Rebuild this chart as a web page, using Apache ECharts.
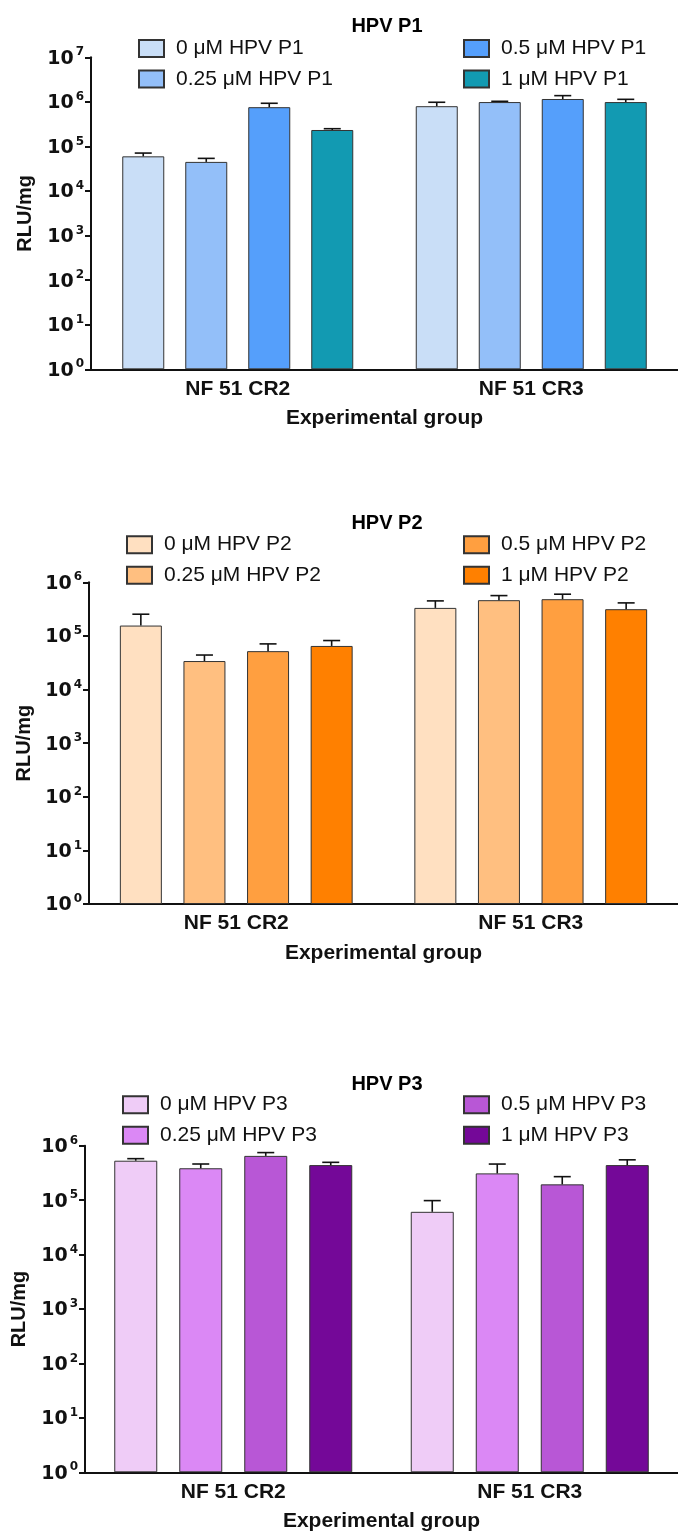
<!DOCTYPE html>
<html>
<head>
<meta charset="utf-8">
<script src="https://cdn.jsdelivr.net/npm/echarts@6/dist/echarts.min.js"></script>
<style>
  html, body { margin: 0; padding: 0; background: #fff; }
  #main { width: 678px; height: 1535px; }
</style>
</head>
<body>
<div id="main"></div>
<script>
// groups on the x axis
const categories = ['NF 51 CR2', 'NF 51 CR3']
const concs = ['0', '0.25', '0.5', '1']
const peptides = ['HPV P1', 'HPV P2', 'HPV P3']

// means per concentration: [CR2, CR3]
const p1Means = [[6.0e4, 8.0e5], [4.5e4, 9.9e5], [7.6e5, 1.16e6], [2.34e5, 9.9e5]]
const p1Sem = [[1.1e4, 1.8e5], [0.9e4, 0.4e5], [1.7e5, 2.2e5], [1.6e4, 1.5e5]]

const p2Means = [[1.56e5, 3.33e5], [3.4e4, 4.64e5], [5.2e4, 4.84e5], [6.5e4, 3.15e5]]
const p2Sem = [[9.8e4, 1.17e5], [1.0e4, 1.01e5], [1.9e4, 1.16e5], [1.7e4, 9.8e4]]

const p3Means = [[5.3e5, 6.1e4], [3.85e5, 3.1e5], [6.5e5, 1.95e5], [4.4e5, 4.4e5]]
const p3Sem = [[4.8e4, 3.7e4], [7.6e4, 1.5e5], [9.7e4, 7.5e4], [5.5e4, 1.1e5]]

const yMaxes = [1e7, 1e6, 1e6]

const p1Colors = ['#C9DEF7', '#93BFF9', '#559FFB', '#129AB2']
const p2Colors = ['#FFE0C1', '#FFBF80', '#FF9F40', '#FF8000']
const p3Colors = ['#EFCCF7', '#DB88F5', '#B857D6', '#740898']

const means = [p1Means, p2Means, p3Means]
const sems = [p1Sem, p2Sem, p3Sem]
const colors = [p1Colors, p2Colors, p3Colors]

// panel layout (px)
const panels = [
    { left: 91, top: 57.3, width: 594, height: 312, bw: 42, gap: 21, title: 22, rows: 46.5, legL: 138, legR: 463, nameGap: 66 },
    { left: 89, top: 582.3, width: 600, height: 321.7, bw: 42, gap: 21.6, title: 519, rows: 542.7, legL: 126, legR: 463, nameGap: 65 },
    { left: 85, top: 1145.7, width: 606, height: 326.6, bw: 43, gap: 22, title: 1080.5, rows: 1102.7, legL: 122, legR: 463, nameGap: 66 }
]

const boldFont = '"Liberation Sans", Arial, sans-serif'

let option = {
    animation: false,
    backgroundColor: '#fff',
    title: [],
    legend: [],
    grid: [],
    xAxis: [],
    yAxis: [],
    series: []
}

panels.forEach((p, i) => {
    const names = concs.map(c => c + ' μM ' + peptides[i])

    option.title.push({
        text: peptides[i],
        left: 382,
        top: p.title - 11,
        textAlign: 'center',
        textStyle: { fontFamily: boldFont, fontWeight: 'bold', fontSize: 20, color: '#000' }
    })

    const legendBase = {
        orient: 'vertical',
        top: p.rows - 8.5,
        padding: 0,
        itemWidth: 25,
        itemHeight: 17,
        itemGap: 9.5,
        icon: 'rect',
        selectedMode: false,
        textStyle: { fontFamily: boldFont, fontSize: 21, color: '#111', padding: [0, 0, 0, 7] }
    }
    option.legend.push(Object.assign({}, legendBase, { left: p.legL, data: names.slice(0, 2) }))
    option.legend.push(Object.assign({}, legendBase, { left: p.legR, data: names.slice(2, 4) }))

    option.grid.push({ left: p.left, top: p.top, width: p.width, height: p.height })

    option.xAxis.push({
        type: 'category',
        gridIndex: i,
        data: categories,
        axisLine: { lineStyle: { color: '#111', width: 2 } },
        axisTick: { alignWithLabel: true, length: 6, lineStyle: { color: '#111', width: 2 } },
        axisLabel: { margin: 9, fontFamily: boldFont, fontWeight: 'bold', fontSize: 21, color: '#111' },
        name: 'Experimental group',
        nameLocation: 'middle',
        nameGap: 49,
        nameTextStyle: { fontFamily: boldFont, fontWeight: 'bold', fontSize: 21, color: '#111', verticalAlign: 'middle' }
    })

    option.yAxis.push({
        type: 'log',
        logBase: 10,
        gridIndex: i,
        min: 1,
        max: yMaxes[i],
        splitLine: { show: false },
        axisLine: { show: true, lineStyle: { color: '#111', width: 2 } },
        axisTick: { show: true, length: 6, lineStyle: { color: '#111', width: 2 } },
        axisLabel: {
            margin: 7,
            formatter: v => '{b|10}{s|' + Math.round(Math.log10(v)) + '}',
            rich: {
                b: { fontFamily: '"DejaVu Sans", sans-serif', fontWeight: 'bold', fontSize: 19, color: '#111', lineHeight: 22, verticalAlign: 'bottom' },
                s: { fontFamily: '"DejaVu Sans", sans-serif', fontWeight: 'bold', fontSize: 12, color: '#111', lineHeight: 22, verticalAlign: 'top', padding: [0, 0, 0, 2] }
            }
        },
        name: 'RLU/mg',
        nameLocation: 'middle',
        nameGap: p.nameGap,
        nameTextStyle: { fontFamily: boldFont, fontWeight: 'bold', fontSize: 20, color: '#111', verticalAlign: 'middle' }
    })

    names.forEach((n, k) => {
        option.series.push({
            name: n,
            type: 'bar',
            xAxisIndex: i,
            yAxisIndex: i,
            barWidth: p.bw,
            barGap: (p.gap / p.bw * 100) + '%',
            data: means[i][k],
            itemStyle: { color: colors[i][k], borderColor: '#333', borderWidth: 1 }
        })
    })

    // error bars (upper half only)
    let errData = []
    concs.forEach((c, k) => {
        categories.forEach((cat, j) => {
            errData.push([j, means[i][k][j], means[i][k][j] + sems[i][k][j], k])
        })
    })
    const step = p.bw + p.gap
    option.series.push({
        type: 'custom',
        xAxisIndex: i,
        yAxisIndex: i,
        encode: { x: 0, y: [1, 2] },
        data: errData,
        z: 5,
        renderItem: (params, api) => {
            const base = api.coord([api.value(0), api.value(1)])
            const tip = api.coord([api.value(0), api.value(2)])
            const x = base[0] + (api.value(3) - 1.5) * step
            const style = { stroke: '#111', lineWidth: 1.6, fill: null }
            return {
                type: 'group',
                children: [
                    { type: 'line', shape: { x1: x, y1: base[1], x2: x, y2: tip[1] }, style: style },
                    { type: 'line', shape: { x1: x - 8.5, y1: tip[1], x2: x + 8.5, y2: tip[1] }, style: style }
                ]
            }
        }
    })
})

const chart = echarts.init(document.getElementById('main'))
chart.setOption(option)
</script>
</body>
</html>
